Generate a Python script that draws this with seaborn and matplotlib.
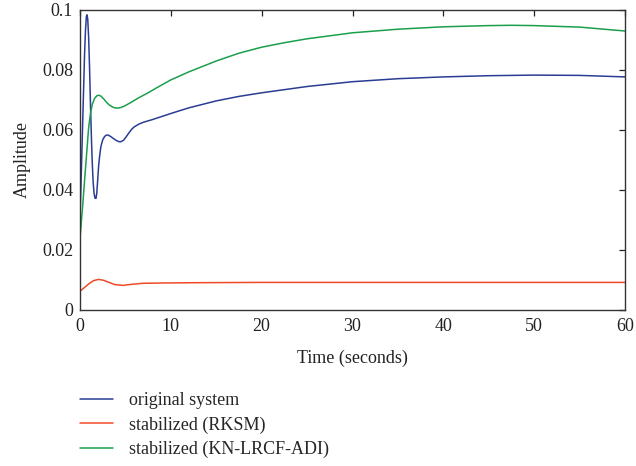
import numpy as np
import pandas as pd
import matplotlib
matplotlib.use("Agg")
import matplotlib.pyplot as plt
import seaborn as sns

# ---- data ----
t_orig = [0, 0.1, 0.2, 0.29, 0.4, 0.5, 0.6, 0.7, 0.77, 0.85, 0.95, 1.05, 1.15, 1.25,
          1.35, 1.45, 1.55, 1.65, 1.76, 1.85, 1.95, 2.05, 2.15, 2.3, 2.5, 2.7, 2.9,
          3.1, 3.4, 3.7, 4.0, 4.3, 4.5, 4.8, 5.1, 5.4, 5.7, 6.0, 6.5, 7.0, 8.0, 9.0,
          10, 12, 15, 17.5, 20, 25, 30, 35, 40, 45, 50, 55, 60]
v_orig = [0.0307, 0.041, 0.052, 0.062, 0.074, 0.085, 0.093, 0.0978, 0.0984, 0.097,
          0.091, 0.081, 0.069, 0.058, 0.049, 0.0425, 0.0388, 0.0373, 0.0372, 0.039,
          0.0435, 0.048, 0.051, 0.0545, 0.0567, 0.0578, 0.0583, 0.0583, 0.0578,
          0.0571, 0.0565, 0.0561, 0.0561, 0.0566, 0.0578, 0.0591, 0.0603, 0.0611,
          0.0620, 0.0626, 0.0635, 0.0645, 0.0655, 0.0674, 0.0697, 0.0712, 0.0724,
          0.0745, 0.0761, 0.0771, 0.0777, 0.0781, 0.0783, 0.0782, 0.0777]

t_rksm = [0, 0.5, 1.0, 1.5, 2.05, 2.6, 3.2, 3.8, 4.7, 5.5, 6.9, 9, 12.8, 20, 30, 40, 50, 60]
v_rksm = [0.0063, 0.0075, 0.0088, 0.0098, 0.0102, 0.0099, 0.0092, 0.0085, 0.0082,
          0.0085, 0.0089, 0.0090, 0.0091, 0.0092, 0.0092, 0.0092, 0.0092, 0.0092]

t_kn = [0, 0.3, 0.6, 0.95, 1.15, 1.35, 1.6, 1.85, 2.05, 2.3, 2.6, 2.9, 3.2, 3.5, 3.8,
        4.15, 4.5, 4.9, 5.5, 6.5, 7.5, 8.4, 10, 12, 15, 17.5, 20, 22.5, 25, 30, 35,
        40, 45, 47.5, 50, 55, 60]
v_kn = [0.0239, 0.035, 0.047, 0.0607, 0.0655, 0.0685, 0.0705, 0.0714, 0.0716, 0.0713,
        0.0704, 0.0693, 0.0684, 0.0678, 0.0674, 0.0673, 0.0675, 0.0680, 0.0690,
        0.0708, 0.0724, 0.0740, 0.0767, 0.0794, 0.0830, 0.0856, 0.0876, 0.0891,
        0.0904, 0.0924, 0.0936, 0.0944, 0.0948, 0.0949, 0.0948, 0.0943, 0.0930]

labels = ["original system", "stabilized (RKSM)", "stabilized (KN-LRCF-ADI)"]
colors = ["#2a3d94", "#ef4a28", "#1a9f4c"]
x_ticks = [0, 10, 20, 30, 40, 50, 60]
y_ticks = [0, 0.02, 0.04, 0.06, 0.08, 0.1]
y_ticklabels = ["0", "0.02", "0.04", "0.06", "0.08", "0.1"]

df = pd.concat([
    pd.DataFrame({"t": t_orig, "v": v_orig, "series": labels[0]}),
    pd.DataFrame({"t": t_rksm, "v": v_rksm, "series": labels[1]}),
    pd.DataFrame({"t": t_kn, "v": v_kn, "series": labels[2]}),
], ignore_index=True)

sns.set_theme(style="white")
plt.rcParams["font.family"] = ["Liberation Serif", "DejaVu Serif"]
plt.rcParams["mathtext.fontset"] = "stix"

fig = plt.figure(figsize=(6.36, 4.66), dpi=100)
ax = fig.add_axes([80 / 636, 1 - 310 / 466, (625 - 80) / 636, 300 / 466])

sns.lineplot(data=df, x="t", y="v", hue="series", hue_order=labels,
             palette=dict(zip(labels, colors)), estimator=None, sort=False,
             linewidth=1.1, ax=ax, legend=True)

ax.set_xlim(0, 60)
ax.set_ylim(0, 0.1)
ax.set_xticks(x_ticks)
ax.set_xticklabels([str(v) for v in x_ticks])
ax.set_yticks(y_ticks)
ax.set_yticklabels(y_ticklabels)
ax.tick_params(direction="in", top=True, right=True, length=4, width=0.9,
               labelsize=13, colors="#222222", pad=5)
ax.tick_params(axis="x", pad=6)
for s in ax.spines.values():
    s.set_color("#333333")
    s.set_linewidth(1.0)
ax.set_xlabel("Time (seconds)", fontsize=13, color="#222222", labelpad=10)
ax.set_ylabel("Amplitude", fontsize=13, color="#222222", labelpad=8)

handles, lbls = ax.get_legend_handles_labels()
ax.legend(handles, lbls, loc="center left", bbox_to_anchor=(80 / 636, 1 - 425 / 466),
          bbox_transform=fig.transFigure, frameon=False, fontsize=13,
          handlelength=1.85, handletextpad=0.85, labelspacing=0.4,
          borderpad=0, borderaxespad=0)

fig.savefig("out.png", dpi=100)
